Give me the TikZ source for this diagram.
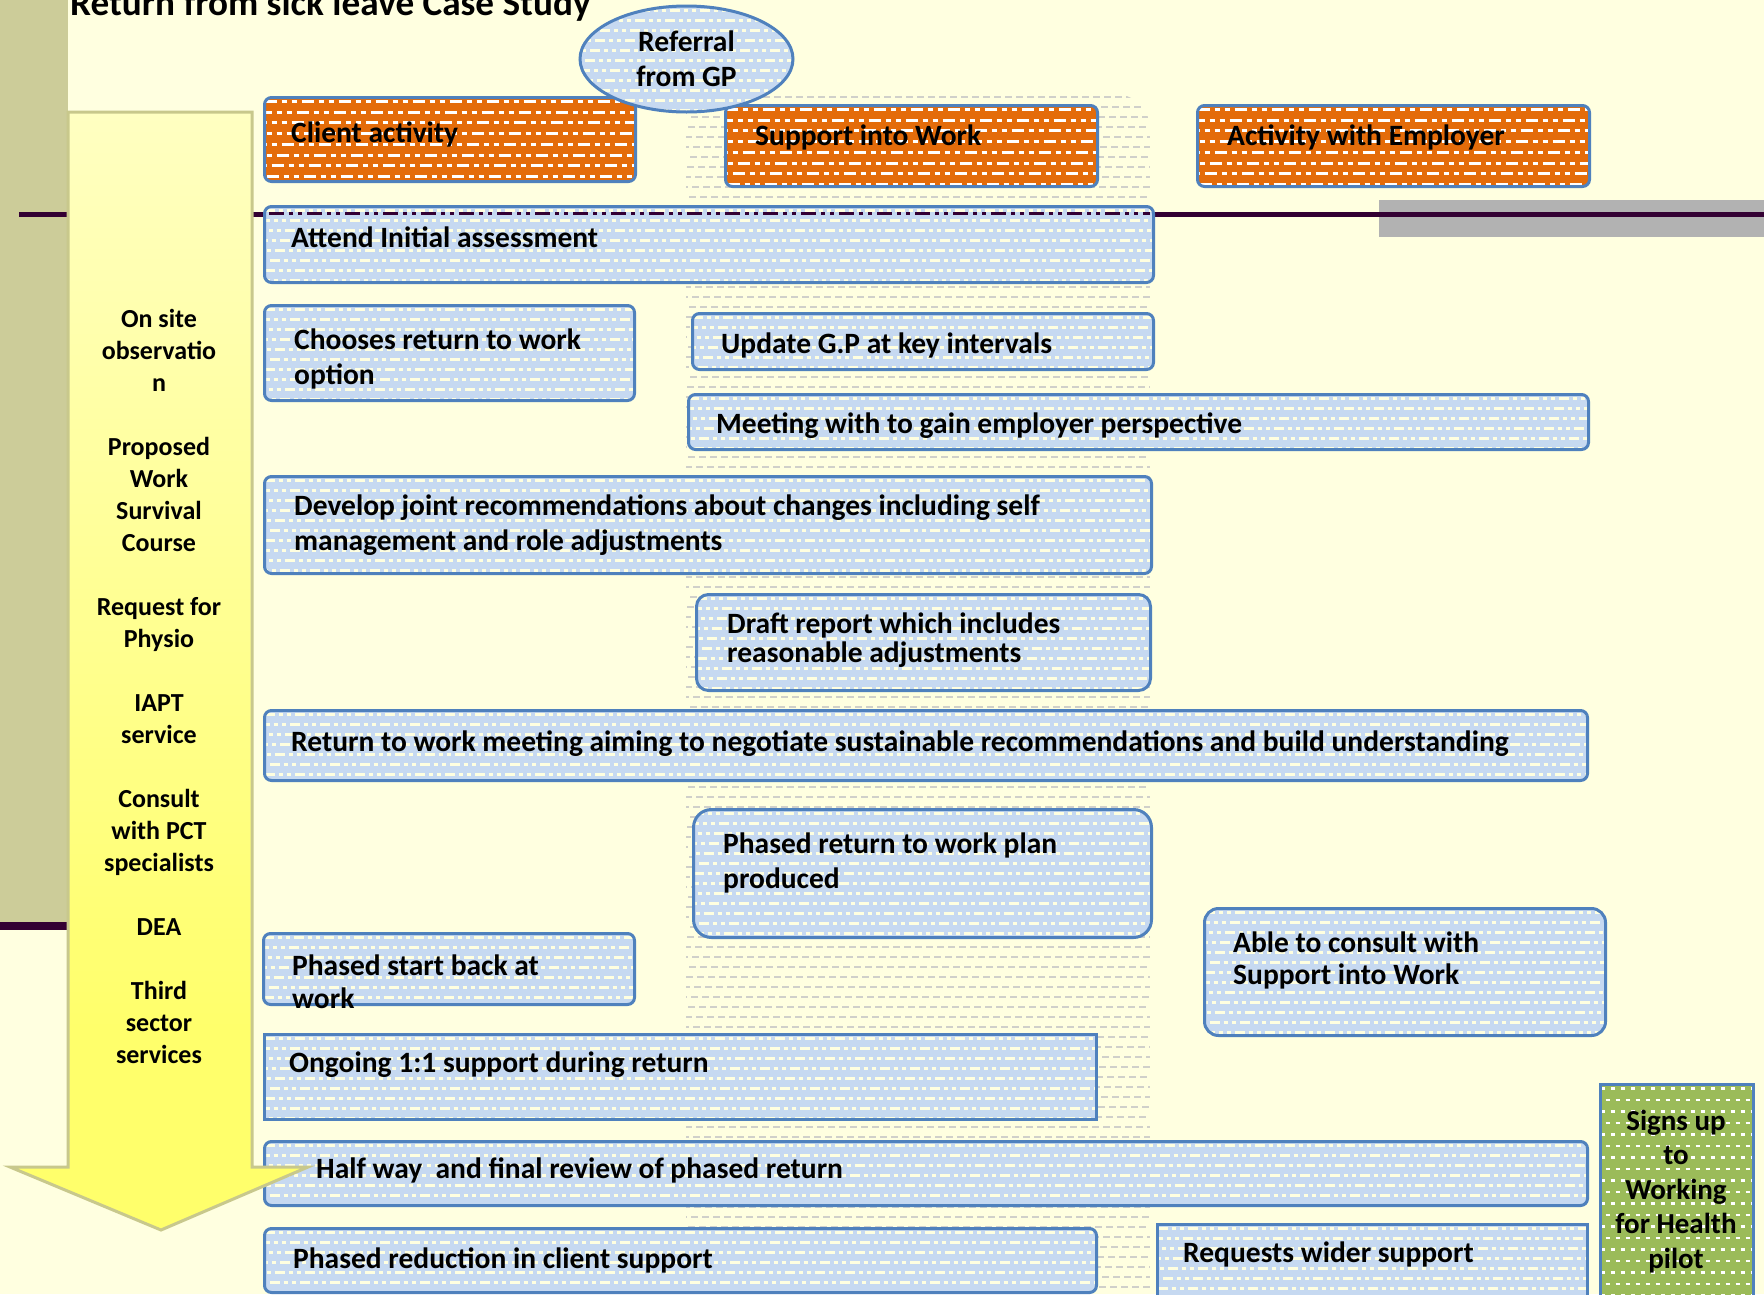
\documentclass[tikz,border=0pt]{standalone}
\usepackage{fontspec}
\setmainfont{Carlito}
\usetikzlibrary{shapes.geometric}
\definecolor{bgy}{HTML}{FFFFE0}
\definecolor{olive}{HTML}{CCCC99}
\definecolor{darkl}{HTML}{330033}
\definecolor{grayr}{HTML}{B2B2B2}
\definecolor{orng}{HTML}{E46C0A}
\definecolor{bfill}{HTML}{C6D9F1}
\definecolor{bord}{HTML}{4F81BD}
\definecolor{grn}{HTML}{9BBB59}
\definecolor{colg}{HTML}{D0D0CA}
\definecolor{ayel}{HTML}{FFFF6B}
\definecolor{atop}{HTML}{FFFFF6}
\definecolor{aline}{HTML}{C8C88C}
\pgfdeclareverticalshading{arrowsh}{100bp}{color(0bp)=(ayel); color(34bp)=(ayel); color(100bp)=(atop)}
\newcommand\mkstripes[4]{%
  \foreach \k in {0,...,22}{%
    \draw[#1, line width=#2, dash pattern=#4, dash phase=\k*5pt]
      ([yshift=-\k*#3-4pt]path picture bounding box.north west) --
      ([yshift=-\k*#3-4pt]path picture bounding box.north east);
  }}
\tikzset{
  boxbase/.style={draw=bord, line width=3pt, rounded corners=7pt, anchor=north west, inner sep=0pt},
  bx/.style={boxbase, fill=bfill,
     path picture={\mkstripes{bgy}{3pt}{10pt}{on 10pt off 4pt on 4pt off 4pt on 4pt off 4pt}}},
  ox/.style={boxbase, fill=orng,
     path picture={\mkstripes{white}{3pt}{10.7pt}{on 12pt off 5pt on 5pt off 5pt on 5pt off 5pt}}},
  gx/.style={boxbase, fill=grn, rounded corners=0pt,
     path picture={\mkstripes{white}{2.5pt}{11.5pt}{on 4pt off 6pt}}},
  tx/.style={font=\bfseries\fontsize{29.5}{35}\selectfont, inner sep=0pt, align=left},
}
\begin{document}
\begin{tikzpicture}[x=1pt,y=-1pt]
% background
\fill[bgy] (0,0) rectangle (1764,1294);
\useasboundingbox (0,0) rectangle (1764,1294);
\fill[olive] (0,0) rectangle (68,922);
% middle dotted column
\begin{scope}
  \clip[rounded corners=35pt] (686,1320) -- (686,94) -- (1150,94) -- (1150,1320) -- cycle;
  \foreach \k in {0,...,121}{
    \draw[colg, line width=2.5pt, dash pattern=on 7pt off 4pt, dash phase=\k*3pt] (686,{97+\k*10}) -- (1150,{97+\k*10});
  }
\end{scope}
% grey bar and dark lines
\fill[grayr] (1379,200) rectangle (1764,237);
\draw[darkl, line width=5pt] (19,214.5) -- (1764,214.5);
\draw[darkl, line width=8pt] (0,926) -- (67,926);
% title
\node[font=\bfseries\fontsize{37.2}{40}\selectfont, inner sep=0pt, anchor=base west] (title) at (70,15) {Return from sick leave Case Study};
% orange header boxes
\node[ox, minimum width=371pt, minimum height=84pt] (client) at (263,96) {};
\node[ox, minimum width=372pt, minimum height=81pt] (siw) at (724,104) {};
\node[ox, minimum width=392pt, minimum height=81pt] (emp) at (1196,104) {};
% blue boxes
\node[bx, minimum width=889pt, minimum height=76pt] (attend) at (263,205) {};
\draw[darkl, line width=3pt, dash pattern=on 15pt off 5pt on 4pt off 5pt on 4pt off 5pt]
  ([xshift=6pt,yshift=-8pt]attend.north west) -- ([xshift=-5pt,yshift=-8pt]attend.north east);
\node[bx, minimum width=370pt, minimum height=95pt] (choose) at (263,304) {};
\node[bx, minimum width=461pt, minimum height=56pt] (update) at (691,312) {};
\node[bx, minimum width=900pt, minimum height=55pt] (meet) at (687,393) {};
\node[bx, minimum width=887pt, minimum height=97pt] (develop) at (263,475) {};
\node[bx, minimum width=454pt, minimum height=96pt, rounded corners=12pt] (draft) at (695,593) {};
\node[bx, minimum width=1323pt, minimum height=70pt] (rtw) at (263,709) {};
\node[bx, minimum width=458pt, minimum height=128pt, rounded corners=18pt] (plan) at (692,808) {};
\node[bx, minimum width=401pt, minimum height=127pt, rounded corners=14pt] (able) at (1203,907) {};
\node[bx, minimum width=371pt, minimum height=71pt] (pstart) at (262,932) {};
\node[bx, minimum width=832pt, minimum height=85pt, rounded corners=0pt] (ongoing) at (263,1033) {};
\node[bx, minimum width=1323pt, minimum height=64pt] (half) at (263,1140) {};
\node[bx, minimum width=832pt, minimum height=64pt] (reduce) at (263,1227) {};
\node[bx, minimum width=430pt, minimum height=90pt, rounded corners=0pt] (wider) at (1156,1223) {};
\node[gx, minimum width=153pt, minimum height=230pt] (pilot) at (1599,1083) {};
% referral ellipse
\node[ellipse, draw=bord, line width=3pt, fill=bfill, minimum width=213pt, minimum height=106pt, inner sep=0pt,
  path picture={\mkstripes{bgy}{3pt}{10pt}{on 10pt off 4pt on 4pt off 4pt on 4pt off 4pt}},
  font=\bfseries\fontsize{29.5}{35}\selectfont, align=center] (referral) at (686.5,59) {Referral\\from GP};
% yellow arrow
\shade[shading=arrowsh, draw=aline, line width=3pt, line join=miter]
  (68,112) -- (252,112) -- (252,1167) -- (308,1167) -- (161,1230) -- (10,1167) -- (68,1167) -- cycle;
% box texts
\node[tx, anchor=base west] (tclient) at (291,142) {Client activity};
\node[tx, anchor=base west] (tsiw) at (755,145) {Support into Work};
\node[tx, anchor=base west] (temp) at (1227,145) {Activity with Employer};
\node[tx, anchor=base west] (tattend) at (291,247) {Attend Initial assessment};
\node[tx, anchor=north west] (tchoose) at (294,324.5) {\strut Chooses return to work\\option};
\node[tx, anchor=base west] (tupdate) at (721,353) {Update G.P at key intervals};
\node[tx, anchor=base west] (tmeet) at (716,433) {Meeting with to gain employer perspective};
\node[tx, anchor=north west] (tdevelop) at (294,490.5) {\strut Develop joint recommendations about changes including self\\management and role adjustments};
\node[tx, font=\bfseries\fontsize{29.5}{27}\selectfont, anchor=north west] (tdraft) at (727,612.1) {\strut Draft report which includes\\reasonable adjustments};
\node[tx, anchor=base west] (trtw) at (291,751) {Return to work meeting aiming to negotiate sustainable recommendations and build understanding};
\node[tx, anchor=north west] (tplan) at (723,828.5) {\strut Phased return to work plan\\produced};
\node[tx, font=\bfseries\fontsize{29.5}{32}\selectfont, anchor=north west] (table) at (1233,929.6) {\strut Able to consult with\\Support into Work};
\node[tx, font=\bfseries\fontsize{29.5}{33}\selectfont, anchor=north west] (tpstart) at (292,951.9) {\strut Phased start back at\\work};
\node[tx, anchor=base west] (tongoing) at (289,1072) {Ongoing 1:1 support during return};
\node[tx, anchor=base west] (thalf) at (316,1178) {Half way\ \ and final review of phased return};
\node[tx, anchor=base west] (treduce) at (293,1268) {Phased reduction in client support};
\node[tx, anchor=base west] (twider) at (1183,1262) {Requests wider support};
\node[tx, font=\bfseries\fontsize{29}{34.5}\selectfont, align=center, anchor=north] (tpilot) at (1676,1105.9) {\strut Signs up\\to\\Working\\for Health\\pilot};
% left list
\node[font=\bfseries\fontsize{26}{32}\selectfont, inner sep=0pt, align=center, anchor=north] (list) at (159,304.6)
 {\strut On site\\observatio\\n\\\mbox{}\\Proposed\\Work\\Survival\\Course\\\mbox{}\\Request for\\Physio\\\mbox{}\\IAPT\\service\\\mbox{}\\Consult\\with PCT\\specialists\\\mbox{}\\DEA\\\mbox{}\\Third\\sector\\services};
\end{tikzpicture}
\end{document}
